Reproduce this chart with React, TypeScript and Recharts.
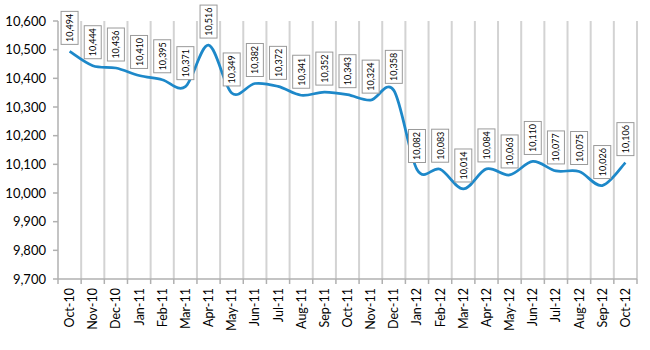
import React from "react";
import { LineChart, Line, XAxis, YAxis, CartesianGrid } from "recharts";

const months = [
  "Oct-10", "Nov-10", "Dec-10", "Jan-11", "Feb-11", "Mar-11", "Apr-11", "May-11", "Jun-11",
  "Jul-11", "Aug-11", "Sep-11", "Oct-11", "Nov-11", "Dec-11", "Jan-12", "Feb-12", "Mar-12",
  "Apr-12", "May-12", "Jun-12", "Jul-12", "Aug-12", "Sep-12", "Oct-12",
];
const values = [
  10494, 10444, 10436, 10410, 10395, 10371, 10516, 10349, 10382, 10372, 10341, 10352, 10343,
  10324, 10358, 10082, 10083, 10014, 10084, 10063, 10110, 10077, 10075, 10026, 10106,
];
const yTicks = [9700, 9800, 9900, 10000, 10100, 10200, 10300, 10400, 10500, 10600];

const data = months.map((m, i) => ({ month: m, value: values[i] }));

const W = 650;
const H = 350;
const MARGIN = { top: 21, right: 13, bottom: 0, left: 8 };
const Y_AXIS_W = 50;
const X_AXIS_H = 71;
const PLOT_W = W - MARGIN.left - MARGIN.right - Y_AXIS_W;
const BAND = PLOT_W / months.length;
const PLOT_BOTTOM = H - MARGIN.bottom - X_AXIS_H;
const FONT = "Lato, 'Open Sans', sans-serif";

// Excel-like smooth line (Catmull-Rom Bezier)
function excelCurve(context: any) {
  let xs: number[] = [];
  let ys: number[] = [];
  return {
    areaStart() {},
    areaEnd() {},
    lineStart() {
      xs = [];
      ys = [];
    },
    lineEnd() {
      const n = xs.length;
      if (!n) return;
      context.moveTo(xs[0], ys[0]);
      for (let i = 0; i < n - 1; i++) {
        const i0 = Math.max(i - 1, 0);
        const i3 = Math.min(i + 2, n - 1);
        const x0 = xs[i0], y0 = ys[i0];
        const x1 = xs[i], y1 = ys[i];
        const x2 = xs[i + 1], y2 = ys[i + 1];
        const x3 = xs[i3], y3 = ys[i3];
        context.bezierCurveTo(
          x1 + (x2 - x0) / 6,
          y1 + (y2 - y0) / 6,
          x2 - (x3 - x1) / 6,
          y2 - (y3 - y1) / 6,
          x2,
          y2
        );
      }
    },
    point(x: number, y: number) {
      xs.push(+x);
      ys.push(+y);
    },
  };
}

const fmt = (v: number) => v.toLocaleString("en-US");

const DataLabel = (props: any) => {
  const { x, y, value } = props;
  if (x == null || y == null) return null;
  const bw = 17;
  const bh = 33;
  const gap = 7;
  const cx = x;
  const cy = y - gap - bh / 2;
  return (
    <g>
      <rect
        x={cx - bw / 2}
        y={cy - bh / 2}
        width={bw}
        height={bh}
        fill="#ffffff"
        stroke="#9a9a9a"
        strokeWidth={1}
      />
      <text
        x={cx}
        y={cy}
        transform={`rotate(-90 ${cx} ${cy})`}
        textAnchor="middle"
        dominantBaseline="central"
        fontFamily={FONT}
        fontSize={9}
        fill="#000"
      >
        {fmt(value)}
      </text>
    </g>
  );
};

const XTick = (props: any) => {
  const { x, payload, index } = props;
  const tx = x + 4.5;
  const ty = PLOT_BOTTOM + 9;
  return (
    <g>
      <line x1={x - BAND / 2} y1={PLOT_BOTTOM} x2={x - BAND / 2} y2={PLOT_BOTTOM + 5} stroke="#b0b0b0" strokeWidth={1.5} />
      {index === months.length - 1 && (
        <line x1={x + BAND / 2} y1={PLOT_BOTTOM} x2={x + BAND / 2} y2={PLOT_BOTTOM + 5} stroke="#b0b0b0" strokeWidth={1.5} />
      )}
      <text
        x={tx}
        y={ty}
        transform={`rotate(-90 ${tx} ${ty})`}
        textAnchor="end"
        fontFamily={FONT}
        fontSize={12.5}
        fill="#000"
      >
        {payload.value}
      </text>
    </g>
  );
};

export default function App() {
  return (
    <div style={{ position: "absolute", left: 0, top: 0, width: W, height: H, background: "#fff" }}>
      <LineChart width={W} height={H} data={data} margin={MARGIN}>
        <CartesianGrid
          horizontal={false}
          stroke="#d3d3d3"
          strokeWidth={2}
          verticalCoordinatesGenerator={({ offset }: any) =>
            months.map((_, i) => offset.left + (i + 1) * (offset.width / months.length))
          }
        />
        <XAxis
          dataKey="month"
          interval={0}
          height={X_AXIS_H}
          padding={{ left: BAND / 2, right: BAND / 2 }}
          tickLine={false}
          axisLine={{ stroke: "#b0b0b0", strokeWidth: 1.5 }}
          tick={<XTick />}
        />
        <YAxis
          width={Y_AXIS_W}
          domain={[9700, 10600]}
          ticks={yTicks}
          interval={0}
          tickFormatter={fmt}
          tickSize={5}
          tickMargin={7}
          tickLine={{ stroke: "#b0b0b0", strokeWidth: 1.5 }}
          axisLine={{ stroke: "#b0b0b0", strokeWidth: 1.5 }}
          tick={{ fontFamily: FONT, fontSize: 13, fill: "#000" }}
        />
        <Line
          dataKey="value"
          type={excelCurve as any}
          stroke="#1d88c9"
          strokeWidth={2.75}
          dot={false}
          isAnimationActive={false}
          label={<DataLabel />}
        />
      </LineChart>
    </div>
  );
}
